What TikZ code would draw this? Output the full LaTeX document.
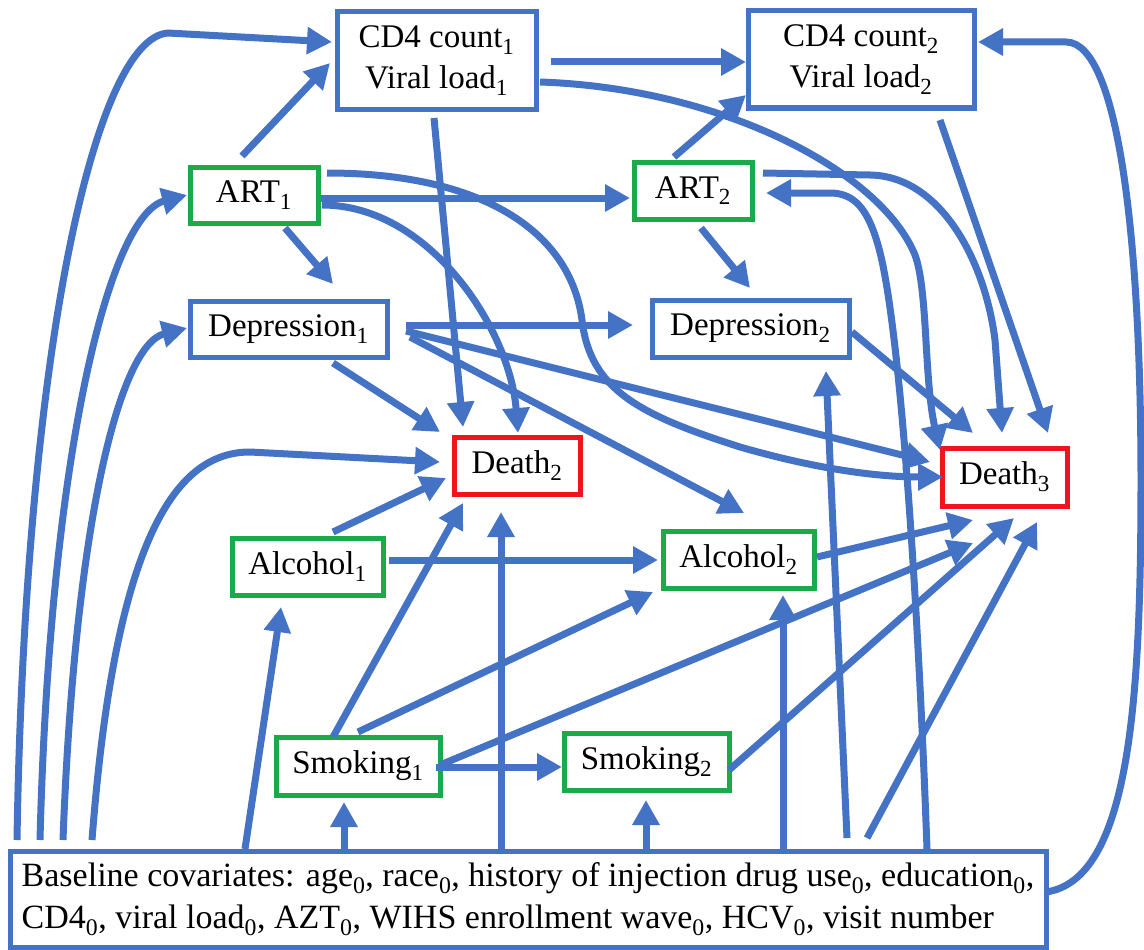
\documentclass[tikz,border=0pt]{standalone}
\usepackage{fontspec}
\setmainfont{Liberation Serif}
\usetikzlibrary{arrows.meta,calc}
\definecolor{eblue}{RGB}{68,114,196}
\definecolor{egreen}{RGB}{26,170,74}
\definecolor{ered}{RGB}{240,20,30}
\begin{document}
\begin{tikzpicture}[x=1pt,y=-1pt,
  every node/.style={font=\fontsize{33}{41}\selectfont},
  nbox/.style={draw=eblue, line width=5pt, fill=white, inner sep=0pt, align=center},
  gbox/.style={nbox, draw=egreen},
  rbox/.style={nbox, draw=ered},
  arr/.style={draw=eblue, line width=7pt, -{Triangle[length=25pt,width=26pt]}},
]
\useasboundingbox (0,0) rectangle (1144,950);

% nodes
\node[nbox, minimum width=199pt, minimum height=97pt] (cd1) at (436.5,60.5) {CD4 count\textsubscript{1}\\Viral load\textsubscript{1}};
\node[nbox, minimum width=226pt, minimum height=97pt] (cd2) at (861,59.5) {CD4 count\textsubscript{2}\\Viral load\textsubscript{2}};
\node[gbox, minimum width=128pt, minimum height=56pt] (art1) at (254,195) {ART\textsubscript{1}};
\node[gbox, minimum width=118pt, minimum height=57pt] (art2) at (693,190.5) {ART\textsubscript{2}};
\node[nbox, minimum width=197pt, minimum height=56pt] (dep1) at (288.5,329) {Depression\textsubscript{1}};
\node[nbox, minimum width=197pt, minimum height=57pt] (dep2) at (750.5,328.5) {Depression\textsubscript{2}};
\node[rbox, minimum width=126pt, minimum height=57pt] (d2) at (517,465.5) {Death\textsubscript{2}};
\node[rbox, minimum width=125pt, minimum height=58pt] (d3) at (1004.5,477) {Death\textsubscript{3}};
\node[gbox, minimum width=151pt, minimum height=57pt] (alc1) at (307.5,566.5) {Alcohol\textsubscript{1}};
\node[gbox, minimum width=151pt, minimum height=57pt] (alc2) at (738.5,559.5) {Alcohol\textsubscript{2}};
\node[gbox, minimum width=164pt, minimum height=58pt] (smk1) at (358,766) {Smoking\textsubscript{1}};
\node[gbox, minimum width=165pt, minimum height=57pt] (smk2) at (646.5,761.5) {Smoking\textsubscript{2}};
\node[nbox, minimum width=1036pt, minimum height=96pt, align=left, font=\fontsize{34}{42}\selectfont] (base) at (528,899)
  {Baseline covariates: age\textsubscript{0}, race\textsubscript{0}, history of injection drug use\textsubscript{0}, education\textsubscript{0},\\CD4\textsubscript{0}, viral load\textsubscript{0}, AZT\textsubscript{0}, WIHS enrollment wave\textsubscript{0}, HCV\textsubscript{0}, visit number};

% baseline edges
\draw[arr] ($(base)+(-511,-59)$) .. controls (25,350) and (95,38) .. (168,33) -- ($(cd1)+(-104.5,-18.5)$);
\draw[arr] ($(base)+(-488,-59)$) .. controls (50,450) and (110,215) .. ($(art1)+(-67,0)$);
\draw[arr] ($(base)+(-465,-59)$) .. controls (75,520) and (120,345) .. ($(dep1)+(-101.5,-1)$);
\draw[arr] ($(base)+(-436,-59)$) .. controls (115,540) and (175,452) .. (250,452) -- ($(d2)+(-77,-3.5)$);
\draw[arr] ($(base)+(-283,-50)$) -- ($(alc1)+(-26.5,40.5)$);
\draw[arr] ($(base)+(-184,-50)$) -- ($(smk1)+(-14,36)$);
\draw[arr] ($(base)+(-27,-50)$) -- ($(d2)+(-16,46.5)$);
\draw[arr] ($(base)+(118,-50)$) -- ($(smk2)+(-0.5,38.5)$);
\draw[arr] ($(base)+(255,-50)$) -- ($(alc2)+(44.5,35.5)$);
\draw[arr] ($(base)+(319,-61)$) -- ($(dep2)+(75.5,42.5)$);
\draw[arr] ($(base)+(339,-61)$) -- ($(d3)+(32.5,45)$);
\draw[arr] ($(base)+(399,-50)$) .. controls (918,600) and (900,320) .. (878,245) .. controls (868,210) and (855,193) .. (830,193) -- ($(art2)+(73,2.5)$);
\draw[arr] ($(base)+(518,-7)$) .. controls (1130,880) and (1141,700) .. (1141,480) .. controls (1141,250) and (1120,42) .. (1066,42) -- ($(cd2)+(117,-17.5)$);

% ART1 edges
\draw[arr] ($(art1)+(-12,-39)$) -- ($(cd1)+(-106.5,2.5)$);
\draw[arr] ($(art1)+(67,3)$) -- ($(art2)+(-63,7.5)$);
\draw[arr] ($(art1)+(31,33)$) -- ($(dep1)+(44.5,-45)$);
\draw[arr] ($(art1)+(68,10)$) .. controls (430,205) and (510,330) .. ($(d2)+(1,-32.5)$);
\draw[arr] ($(art1)+(73,-22)$) .. controls (480,173) and (570,230) .. (582,320) .. controls (590,390) and (640,415) .. (740,447) .. controls (820,470) and (880,477) .. ($(d3)+(-61.5,0)$);

% CD4_1 edges
\draw[arr] ($(cd1)+(114.5,1.5)$) -- ($(cd2)+(-115,2.5)$);
\draw[arr] ($(cd1)+(-2.5,57.5)$) -- ($(d2)+(-54,-38.5)$);
\draw[arr] ($(cd1)+(103.5,21.5)$) .. controls (720,88) and (880,170) .. (915,255) .. controls (928,290) and (924,380) .. ($(d3)+(-64.5,-27)$);

% Depression_1 edges
\draw[arr] ($(dep1)+(117.5,-4)$) -- ($(dep2)+(-117.5,-3.5)$);
\draw[arr] ($(dep1)+(44.5,34)$) -- ($(d2)+(-77,-33.5)$);
\draw[arr] ($(dep1)+(117.5,2)$) -- ($(d3)+(-74.5,-15)$);
\draw[arr] ($(dep1)+(121.5,8)$) -- ($(alc2)+(5.5,-46.5)$);

% ART_2 edges
\draw[arr] ($(art2)+(-19,-33.5)$) -- ($(cd2)+(-115,35.5)$);
\draw[arr] ($(art2)+(8,37.5)$) -- ($(dep2)+(-0.5,-40.5)$);
\draw[arr] ($(art2)+(70,-17.5)$) -- (870,175) .. controls (940,176) and (985,260) .. (995,340) -- ($(d3)+(-2.5,-44)$);

% Depression_2, CD4_2
\draw[arr] ($(dep2)+(101.5,3.5)$) -- ($(d3)+(-31.5,-44)$);
\draw[arr] ($(cd2)+(79,60.5)$) -- ($(d3)+(43.5,-44)$);

% Alcohol edges
\draw[arr] ($(alc1)+(25.5,-34.5)$) -- ($(d2)+(-71,12.5)$);
\draw[arr] ($(alc1)+(81.5,-6.5)$) -- ($(alc2)+(-80.5,0.5)$);
\draw[arr] ($(alc2)+(78.5,-2.5)$) -- ($(d3)+(-31.5,43)$);

% Smoking edges
\draw[arr] ($(smk1)+(-25,-29)$) -- ($(d2)+(-54,37.5)$);
\draw[arr] ($(smk1)+(0,-34)$) -- ($(alc2)+(-85.5,32.5)$);
\draw[arr] ($(smk1)+(78,1)$) -- ($(smk2)+(-84.5,5.5)$);
\draw[arr] ($(smk1)+(82,-1)$) -- ($(d3)+(-31.5,66)$);
\draw[arr] ($(smk2)+(82.5,8.5)$) -- ($(d3)+(9.5,41)$);
\end{tikzpicture}
\end{document}
